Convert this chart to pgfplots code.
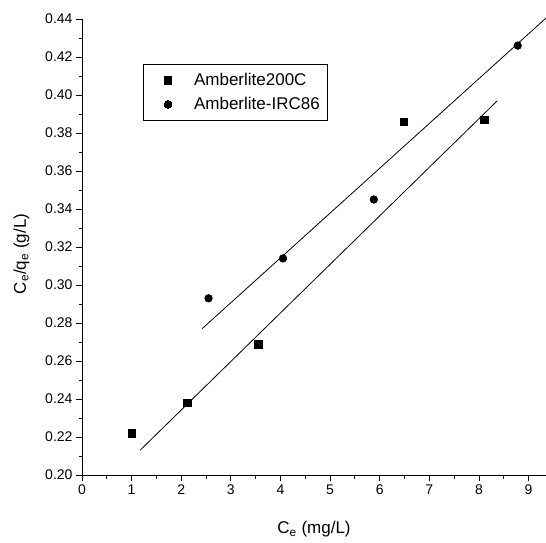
\documentclass[border=0pt]{standalone}
\usepackage{pgfplots}
\pgfplotsset{compat=1.18}
\usepackage{fontspec}
\setmainfont{Liberation Sans}
\newcommand{\tfs}{\fontsize{14pt}{16pt}\selectfont}
\newcommand{\lfs}{\fontsize{17pt}{19pt}\selectfont}
\begin{document}
\begin{tikzpicture}[x=1pt,y=1pt]
\begin{axis}[
  at={(82pt,67pt)}, anchor=origin,
  scale only axis, width=464pt, height=456pt,
  xmin=0, xmax=9.35, ymin=0.20, ymax=0.44,
  axis x line=bottom, axis y line=left,
  axis line style={-, line width=0.9pt},
  xtick={0,1,...,9}, ytick={0.20,0.22,...,0.44},
  minor x tick num=1, minor y tick num=1,
  tick align=outside, tick style={black, line width=0.9pt},
  major tick length=6pt, minor tick length=3.5pt,
  xticklabel={\tfs\pgfmathprintnumber[assume math mode=true]{\tick}},
  yticklabel={\tfs\pgfmathprintnumber[assume math mode=true,fixed,fixed zerofill,precision=2]{\tick}},
  xlabel={\lfs C\textsubscript{e} (mg/L)}, ylabel={\lfs C\textsubscript{e}/q\textsubscript{e} (g/L)},
  xlabel style={yshift=-20pt}, ylabel style={yshift=9pt, xshift=-7pt},
  legend style={at={(0.131,0.901)}, anchor=north west, draw=black, line width=0.6pt,
    inner xsep=6pt, inner ysep=7pt, row sep=6pt},
  legend cell align=left,
  legend image code/.code={\path[draw=none,fill=none] (0pt,0pt) -- (29pt,0pt); \draw[#1, line width=0pt] plot coordinates {(19pt,0pt)};},
  clip=false,
]
\addplot[only marks, mark=square*, mark size=3.8pt, black] coordinates {
  (1.0,0.222) (2.12,0.238) (3.55,0.269) (6.48,0.386) (8.1,0.387)};
\addlegendentry{\lfs\hspace{14pt}Amberlite200C\hspace{28pt}}
\addplot[only marks, mark=*, mark size=3.9pt, black] coordinates {
  (2.55,0.293) (4.05,0.314) (5.88,0.345) (8.78,0.426)};
\addlegendentry{\lfs\hspace{14pt}Amberlite-IRC86\hspace{28pt}}
\addplot[black, line width=0.8pt, forget plot] coordinates {(1.17,0.213) (8.37,0.397)};
\addplot[black, line width=0.8pt, forget plot] coordinates {(2.42,0.277) (9.35,0.4405)};
\end{axis}
\pgfresetboundingbox
\path[use as bounding box] (0,0) rectangle (546pt,542pt);
\end{tikzpicture}
\end{document}
